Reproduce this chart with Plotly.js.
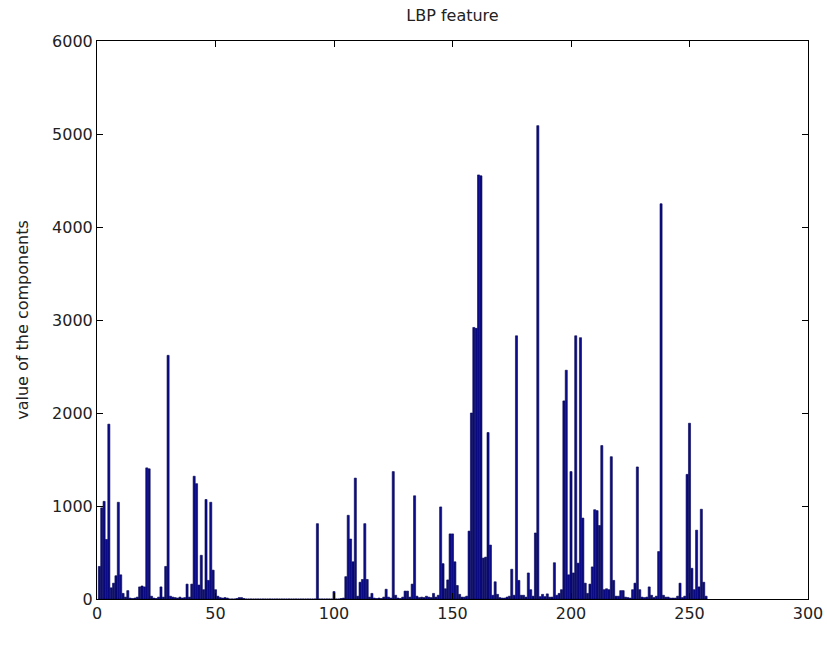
<!DOCTYPE html>
<html>
<head>
<meta charset="utf-8">
<script src="https://cdn.plot.ly/plotly-3.0.1.min.js"></script>
<style>html,body{margin:0;padding:0;background:#fff;}#chart{width:827px;height:646px;}</style>
</head>
<body>
<div id="chart"></div>
<script>
// LBP histogram: bin values for bins 1..257 (first bin index / step below)
const firstBin = 1;
const binStep = 1;
const lbpValues = [
  350, 980, 1050, 640, 1880, 120, 170, 250, 1040, 260,
  60, 20, 90, 10, 5, 10, 20, 130, 140, 130,
  1410, 1400, 30, 10, 5, 20, 130, 20, 350, 2620,
  30, 20, 15, 10, 20, 10, 15, 160, 20, 160,
  1320, 1240, 150, 470, 100, 1070, 200, 1040, 310, 100,
  30, 15, 10, 15, 10, 0, 0, 0, 5, 15,
  15, 5, 0, 0, 0, 0, 0, 0, 0, 0,
  0, 0, 0, 0, 0, 0, 0, 0, 0, 0,
  0, 0, 0, 0, 0, 0, 0, 0, 0, 0,
  0, 0, 810, 0, 0, 0, 0, 0, 0, 80,
  0, 0, 5, 10, 240, 900, 645, 400, 1300, 30,
  180, 210, 810, 210, 20, 60, 10, 5, 10, 5,
  20, 105, 20, 10, 1370, 40, 10, 5, 20, 85,
  85, 20, 160, 1110, 30, 15, 20, 15, 30, 20,
  15, 60, 20, 40, 990, 380, 110, 205, 700, 700,
  400, 145, 50, 20, 20, 30, 730, 2000, 2920, 2910,
  4560, 4550, 440, 450, 1790, 580, 40, 185, 50, 15,
  10, 10, 20, 30, 320, 40, 2830, 200, 40, 40,
  20, 280, 100, 30, 710, 5090, 25, 50, 25, 55,
  20, 20, 390, 40, 60, 100, 2130, 2460, 260, 1370,
  280, 2830, 385, 2810, 870, 170, 60, 160, 345, 960,
  950, 790, 1650, 100, 110, 100, 1530, 200, 30, 30,
  90, 90, 20, 15, 10, 100, 170, 1420, 100, 20,
  15, 20, 130, 40, 15, 30, 510, 4250, 40, 20,
  20, 10, 10, 10, 30, 170, 15, 30, 1340, 1890,
  330, 100, 740, 130, 965, 180, 30
];
const xTickVals = [0, 50, 100, 150, 200, 250, 300];
const yTickVals = [0, 1000, 2000, 3000, 4000, 5000, 6000];
const chartTitle = 'LBP feature';
const yTitle = 'value of the components';

const fontFam = 'DejaVu Sans, Liberation Sans, Arial, sans-serif';
const trace = {
  type: 'bar',
  y: lbpValues,
  x0: firstBin,
  dx: binStep,
  marker: {color: '#0c0c8a', line: {color: '#000050', width: 0.6}},
  hoverinfo: 'x+y'
};
const axisCommon = {
  showline: true, linecolor: '#000', linewidth: 1, mirror: 'ticks',
  ticks: 'inside', ticklen: 6, tickwidth: 1, tickcolor: '#000',
  showgrid: false, zeroline: false,
  tickfont: {family: fontFam, size: 16, color: '#222'}
};
const layout = {
  width: 827, height: 646,
  margin: {l: 97, r: 19, t: 41, b: 47, pad: 0},
  paper_bgcolor: '#fff', plot_bgcolor: '#fff',
  bargap: 0.12,
  showlegend: false,
  title: {text: chartTitle, x: 0.5, xref: 'paper', xanchor: 'center',
          y: 1 - 15/646, yref: 'container', yanchor: 'middle',
          font: {family: fontFam, size: 16, color: '#222'}},
  xaxis: Object.assign({}, axisCommon, {range: [0, 300], tickvals: xTickVals, ticktext: xTickVals.map(String)}),
  yaxis: Object.assign({}, axisCommon, {range: [0, 6000], tickvals: yTickVals, ticktext: yTickVals.map(String),
          title: {text: yTitle, standoff: 19, font: {family: fontFam, size: 16, color: '#222'}}})
};
Plotly.newPlot('chart', [trace], layout, {displayModeBar: false, staticPlot: true});
</script>
</body>
</html>
